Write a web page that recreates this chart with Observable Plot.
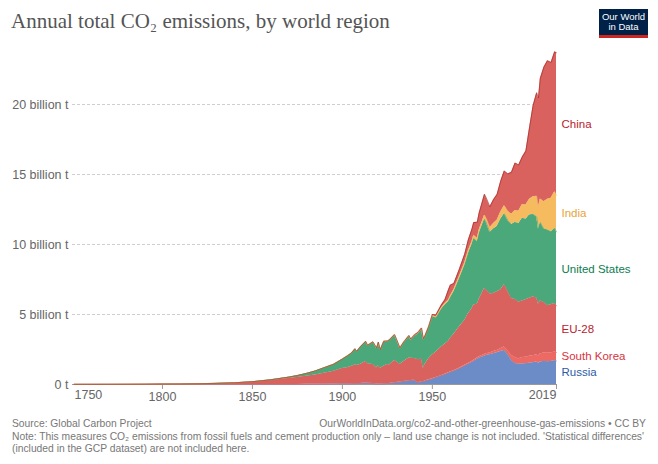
<!DOCTYPE html>
<html>
<head>
<meta charset="utf-8">
<script src="https://cdn.jsdelivr.net/npm/d3@7"></script>
<script src="https://cdn.jsdelivr.net/npm/@observablehq/plot@0.6"></script>
<style>
  html, body { margin: 0; padding: 0; background: #fff; }
  #wrap { position: relative; width: 658px; height: 464px; overflow: hidden; font-family: "Liberation Sans", Arial, sans-serif; }
  #title { position: absolute; left: 11px; top: 9px; font-family: "Liberation Serif", "DejaVu Serif", serif; font-size: 21px; color: #555; white-space: nowrap; }
  #logo { position: absolute; left: 599px; top: 9px; width: 49px; background: #002147; border-bottom: 3px solid #ce261e; color: #fff; font-family: "Liberation Sans Narrow", "Liberation Sans", Arial, sans-serif; font-size: 9.5px; line-height: 10px; text-align: center; padding-top: 3px; box-sizing: content-box; height: 23px; }
  .foot { position: absolute; font-size: 10.3px; color: #777; white-space: nowrap; }
  #chart { position: absolute; left: 0; top: 0; }
</style>
</head>
<body>
<div id="wrap">
  <div id="chart"></div>
  <div id="title">Annual total CO₂ emissions, by world region</div>
  <div id="logo">Our World<br>in Data</div>
  <div class="foot" style="left:12px; top:418px;">Source: Global Carbon Project</div>
  <div class="foot" style="right:12px; top:418px;">OurWorldInData.org/co2-and-other-greenhouse-gas-emissions • CC BY</div>
  <div class="foot" style="left:12px; top:431px;">Note: This measures CO₂ emissions from fossil fuels and cement production only – land use change is not included. 'Statistical differences'</div>
  <div class="foot" style="left:12px; top:443px;">(included in the GCP dataset) are not included here.</div>
</div>
<script>
// Data (billion tonnes CO2)
const years = [1751,1760,1770,1780,1790,1800,1810,1820,1830,1840,1850,1860,1870,1875,1880,1885,1890,1895,1900,1903,1905,1907,1908,1910,1913,1914,1917,1919,1920,1921,1923,1925,1926,1929,1930,1932,1934,1937,1938,1940,1942,1944,1945,1946,1948,1950,1952,1955,1957,1959,1960,1962,1965,1968,1970,1972,1973,1975,1976,1979,1980,1982,1984,1986,1988,1990,1992,1994,1996,1998,2000,2002,2004,2006,2008,2009,2010,2012,2014,2016,2018,2019];

const russia = [0,0,0,0,0,0,0,0,0.0005,0.001,0.002,0.003,0.005,0.008,0.012,0.02,0.025,0.035,0.05,0.055,0.06,0.07,0.07,0.08,0.1,0.09,0.07,0.03,0.04,0.04,0.05,0.07,0.08,0.12,0.14,0.17,0.22,0.27,0.28,0.3,0.12,0.2,0.2,0.25,0.33,0.4,0.5,0.62,0.72,0.82,0.88,0.97,1.13,1.33,1.45,1.58,1.65,1.8,1.88,2.02,2.07,2.12,2.2,2.26,2.35,2.43,2.1,1.7,1.5,1.45,1.47,1.48,1.52,1.55,1.6,1.5,1.6,1.65,1.63,1.64,1.7,1.68];

const southKorea = [0,0,0,0,0,0,0,0,0,0,0,0,0,0,0,0,0,0,0,0,0,0,0,0,0,0,0,0,0,0,0,0,0,0,0,0,0.001,0.002,0.002,0.003,0.003,0.002,0,0.001,0.002,0.003,0.005,0.01,0.012,0.013,0.013,0.017,0.03,0.045,0.055,0.065,0.075,0.09,0.1,0.13,0.13,0.135,0.155,0.17,0.2,0.25,0.3,0.37,0.43,0.38,0.45,0.47,0.49,0.5,0.52,0.52,0.57,0.6,0.6,0.61,0.63,0.61];

const eu28 = [0.009,0.01,0.012,0.015,0.02,0.03,0.035,0.05,0.075,0.11,0.18,0.29,0.42,0.5,0.58,0.65,0.78,0.9,1.1,1.15,1.22,1.32,1.28,1.35,1.55,1.38,1.35,1.15,1.3,1.1,1.25,1.35,1.3,1.6,1.48,1.25,1.4,1.62,1.6,1.55,1.65,1.6,0.95,1.2,1.5,1.7,1.8,2.05,2.15,2.25,2.4,2.6,2.95,3.2,3.55,3.75,3.95,3.85,4.1,4.7,4.55,4.2,4.15,4.2,4.2,4.44,4.2,4.05,4.15,4.05,4.05,4.1,4.15,4.2,4.05,3.7,3.8,3.6,3.4,3.45,3.45,3.33];

const unitedStates = [0,0,0,0,0.0003,0.0006,0.001,0.002,0.005,0.012,0.02,0.04,0.1,0.13,0.2,0.3,0.4,0.5,0.66,0.85,0.95,1.15,1.0,1.25,1.4,1.3,1.6,1.4,1.65,1.3,1.75,1.65,1.75,1.8,1.6,1.15,1.35,1.55,1.3,1.6,1.85,2.15,2.05,2.0,2.25,2.75,2.45,2.7,2.8,2.85,2.9,3.05,3.45,3.95,4.3,4.6,4.75,4.45,4.7,4.95,4.8,4.4,4.6,4.65,5.05,5.07,5.1,5.3,5.5,5.6,5.9,5.75,5.95,5.9,5.8,5.35,5.6,5.25,5.4,5.2,5.38,5.28];

const india = [0,0,0,0,0,0,0,0,0,0,0,0,0,0,0.002,0.003,0.005,0.007,0.01,0.012,0.013,0.015,0.016,0.018,0.022,0.022,0.025,0.025,0.026,0.026,0.027,0.028,0.028,0.03,0.03,0.028,0.03,0.034,0.035,0.038,0.04,0.04,0.04,0.04,0.05,0.07,0.075,0.09,0.1,0.11,0.12,0.14,0.16,0.18,0.2,0.21,0.22,0.25,0.26,0.29,0.3,0.34,0.39,0.45,0.52,0.58,0.66,0.74,0.84,0.9,0.98,1.02,1.12,1.26,1.47,1.6,1.68,1.96,2.2,2.4,2.6,2.62];

const china = [0,0,0,0,0,0,0,0,0,0,0,0,0,0,0,0,0,0,0.0001,0.001,0.002,0.003,0.003,0.005,0.01,0.01,0.01,0.01,0.012,0.012,0.014,0.016,0.017,0.02,0.02,0.02,0.025,0.03,0.03,0.04,0.05,0.05,0.03,0.02,0.03,0.08,0.13,0.2,0.27,0.72,0.78,0.44,0.5,0.6,0.77,0.88,0.92,1.15,1.2,1.5,1.47,1.5,1.7,1.85,2.2,2.48,2.68,3.0,3.4,3.3,3.4,3.85,5.1,6.5,7.4,7.8,8.6,9.6,9.9,9.7,10.0,10.17];

const seriesNames = ["Russia", "South Korea", "EU-28", "United States", "India", "China"];
const seriesValues = [russia, southKorea, eu28, unitedStates, india, china];
const areaColors = ["#6b8cc6", "#ec6a63", "#d9625f", "#4ba87b", "#f7bb5f", "#d9625f"];
const labelColors = ["#2d5aa8", "#d7333f", "#b82330", "#0b7d4f", "#e8a33a", "#b82330"];
const yTicks = [0, 5, 10, 15, 20];
const xTicks = [1800, 1850, 1900, 1950];
const xFirstLabel = [1750];
const xLastLabel = [2019];

const rows = [];
seriesNames.forEach((name, i) => {
  years.forEach((yr, j) => rows.push({series: name, year: yr, value: seriesValues[i][j]}));
});
const lastYear = years[years.length - 1];
const lastRows = rows.filter(d => d.year === lastYear);

const fillOf = d => areaColors[seriesNames.indexOf(d.series)];
const labelOf = d => labelColors[seriesNames.indexOf(d.series)];

const chart = Plot.plot({
  width: 658,
  height: 464,
  marginLeft: 72,
  marginRight: 102,
  marginTop: 48,
  marginBottom: 80,
  style: {fontFamily: "'Liberation Sans', Arial, sans-serif", background: "transparent"},
  x: {domain: [1750, 2019]},
  y: {domain: [0, 24]},
  color: {type: "identity"},
  marks: [
    Plot.gridY(yTicks.filter(t => t > 0), {stroke: "#cfcfcf", strokeOpacity: 1, strokeDasharray: "3,2", strokeWidth: 1}),
    Plot.axisY({ticks: yTicks, tickSize: 0, tickPadding: 4, fontSize: 12.5, fill: "#666",
      tickFormat: d => d === 0 ? "0 t" : `${d} billion t`, label: null}),
    Plot.axisX({ticks: xTicks, tickSize: 5, tickPadding: 3, fontSize: 12.5, fill: "#666", stroke: "#999",
      tickFormat: d => String(d), label: null}),
    Plot.axisX({ticks: [lastYear], tickSize: 5, stroke: "#999", tickFormat: () => "", label: null}),
    Plot.text(xFirstLabel, {x: d => d, frameAnchor: "bottom", dy: 14, dx: 2, fontSize: 12.5, fill: "#666",
      text: d => String(d), textAnchor: "start"}),
    Plot.text(xLastLabel, {x: d => d, frameAnchor: "bottom", dy: 14, fontSize: 12.5, fill: "#666",
      text: d => String(d), textAnchor: "end"}),
    Plot.ruleY([0], {stroke: "#999"}),
    Plot.areaY(rows, {x: "year", y: "value", z: "series", order: seriesNames, fill: fillOf}),
    Plot.lineY(rows, Plot.stackY2({x: "year", y: "value", z: "series", order: seriesNames,
      stroke: d => d.series === "China" ? "#a0302c" : fillOf(d), strokeWidth: 0.8, strokeOpacity: 0.8})),
    Plot.text(lastRows, Plot.stackY({x: "year", y: "value", z: "series", order: seriesNames,
      text: "series", fill: labelOf, textAnchor: "start", dx: 5, fontSize: 11.5}))
  ]
});
document.getElementById("chart").appendChild(chart);
</script>
</body>
</html>
